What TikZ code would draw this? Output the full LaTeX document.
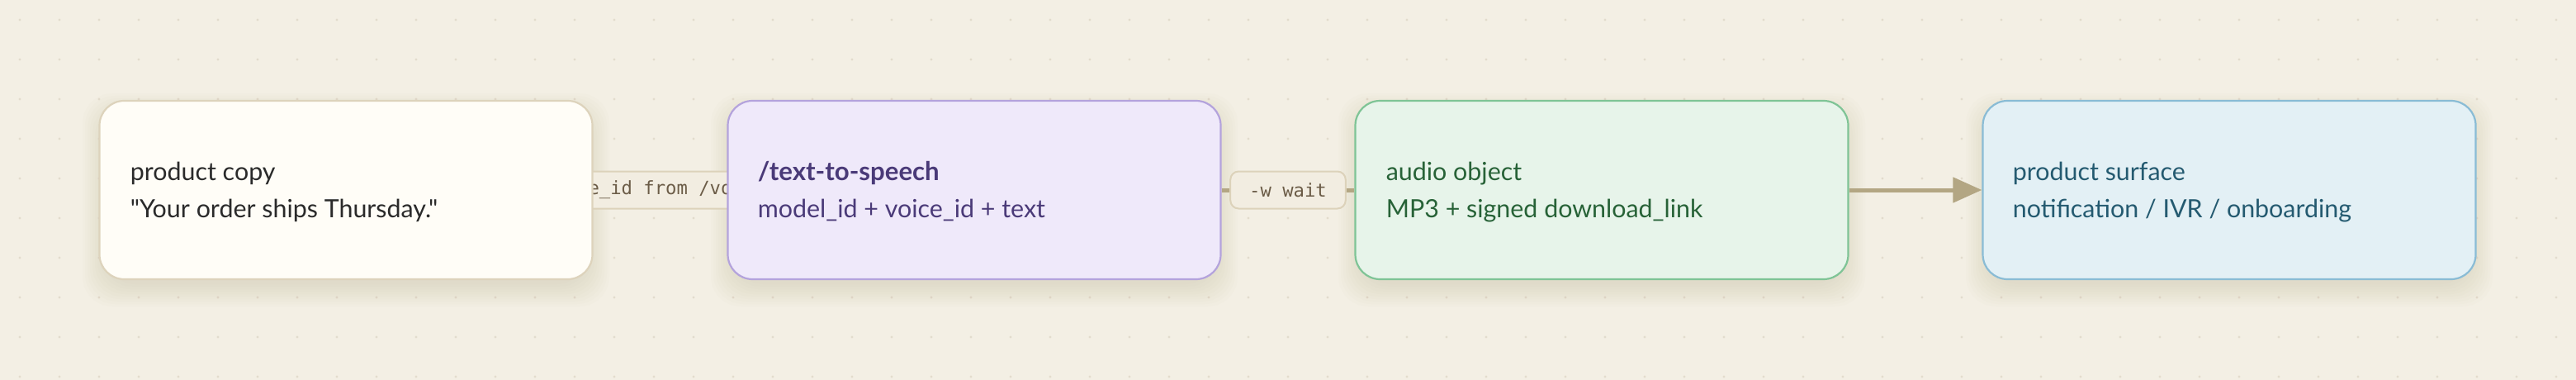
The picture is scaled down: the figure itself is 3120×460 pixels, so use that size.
\documentclass[tikz,border=0pt]{standalone}
\usepackage{fontspec}
\setmainfont{Lato}[Ligatures=TeXOff]
\setmonofont{DejaVu Sans Mono}
\usetikzlibrary{arrows.meta}
\definecolor{bg}{HTML}{F3EFE4}
\definecolor{dotc}{HTML}{E2DCCD}
\definecolor{shadowc}{HTML}{B8A67E}
\definecolor{linec}{HTML}{B3A683}
\definecolor{labfill}{HTML}{F2EDE1}
\definecolor{labdraw}{HTML}{DCD2BA}
\definecolor{labtext}{HTML}{6B5C47}
\definecolor{fillA}{HTML}{FFFDF7}
\definecolor{drawA}{HTML}{DDD3BC}
\definecolor{textA}{HTML}{2A2A2A}
\definecolor{fillB}{HTML}{EFE9FA}
\definecolor{drawB}{HTML}{B4A3DC}
\definecolor{textB}{HTML}{4A3A78}
\definecolor{fillC}{HTML}{E7F4EA}
\definecolor{drawC}{HTML}{7FC496}
\definecolor{textC}{HTML}{276237}
\definecolor{fillD}{HTML}{E3F0F5}
\definecolor{drawD}{HTML}{8ABCD5}
\definecolor{textD}{HTML}{245A70}
\tikzset{
  card/.style={rectangle, rounded corners=15pt, line width=1.1pt,
    minimum width=298.5pt, minimum height=108pt, inner sep=0pt},
  cardshadow/.style={fill=shadowc, fill opacity=0.022, rounded corners=18pt},
  conn/.style={draw=linec, line width=2.5pt},
  lab/.style={rectangle, rounded corners=5pt, fill=labfill, draw=labdraw,
    line width=1pt, font=\ttfamily\fontsize{11.1pt}{13pt}\selectfont,
    text=labtext, inner xsep=11.5pt, inner ysep=0pt, minimum height=22.5pt},
  txt/.style={anchor=base west, inner sep=0pt, font=\fontsize{15.2pt}{18pt}\selectfont}
}
\begin{document}
\begin{tikzpicture}[x=0.5pt,y=-0.5pt]
\fill[bg] (0,0) rectangle (3120,460);
\useasboundingbox (0,0) rectangle (3120,460);
\foreach \i in {0,...,64} {\foreach \j in {0,...,9} {\fill[dotc] (24+48*\i,24+48*\j) circle (1.6);}}
% shadows
\foreach \cx in {419,1180,1940,2700} {
  \foreach \k in {0,3,...,27} {
    \fill[cardshadow] (\cx-292-\k,140-\k) rectangle (\cx+292+\k,344+\k);
  }
}
% nodes (placed first as coordinates for connectors)
\path (419,230) node[card] (b1) {}
      (1180,230) node[card] (b2) {}
      (1940,230) node[card] (b3) {}
      (2700,230) node[card] (b4) {};
% connectors
\draw[conn] (b1.east) -- (b2.west) node[midway, lab] (l1) {voice\_id from /voices};
\draw[conn] (b2.east) -- (b3.west) node[midway, lab] (l2) {-w wait};
\draw[conn, -{Triangle[length=17.5pt,width=15pt]}] (b3.east) -- (b4.west);
% cards on top
\node[card, fill=fillA, draw=drawA] at (b1) {};
\node[card, fill=fillB, draw=drawB] at (b2) {};
\node[card, fill=fillC, draw=drawC] at (b3) {};
\node[card, fill=fillD, draw=drawD] at (b4) {};
% texts
\node[txt, text=textA] (t1a) at ([xshift=19pt]b1.west |- 0,218) {product copy};
\node[txt, text=textA] (t1b) at ([xshift=19pt]b1.west |- 0,263) {"Your order ships Thursday."};
\node[txt, text=textB, font=\bfseries\fontsize{15.6pt}{18pt}\selectfont] (t2a) at ([xshift=18.5pt]b2.west |- 0,218) {/text-to-speech};
\node[txt, text=textB] (t2b) at ([xshift=18.5pt]b2.west |- 0,263) {model\_id + voice\_id + text};
\node[txt, text=textC] (t3a) at ([xshift=19pt]b3.west |- 0,218) {audio object};
\node[txt, text=textC] (t3b) at ([xshift=19pt]b3.west |- 0,263) {MP3 + signed download\_link};
\node[txt, text=textD] (t4a) at ([xshift=18.5pt]b4.west |- 0,218) {product surface};
\node[txt, text=textD] (t4b) at ([xshift=18.5pt]b4.west |- 0,263) {notification / IVR / onboarding};
\end{tikzpicture}
\end{document}
